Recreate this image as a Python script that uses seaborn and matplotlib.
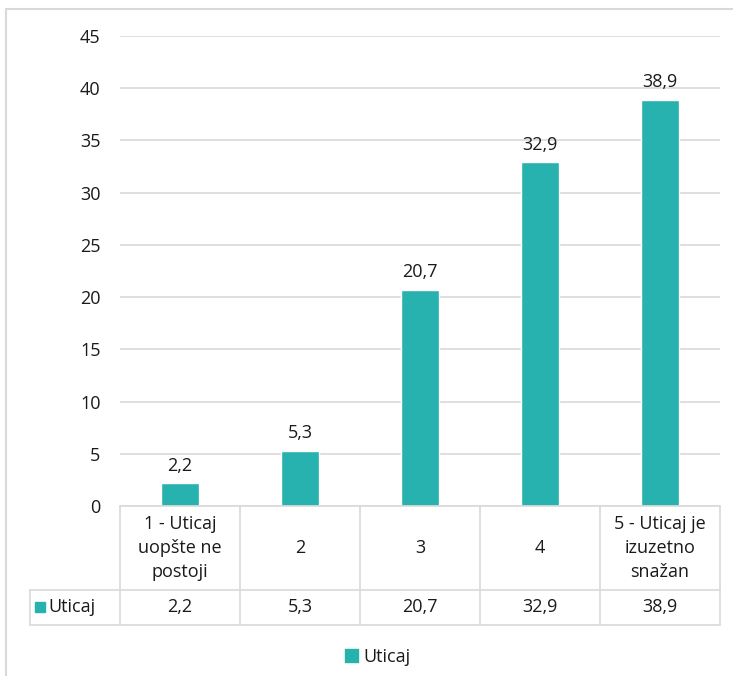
import matplotlib
matplotlib.use("Agg")
import matplotlib.pyplot as plt
import seaborn as sns
import pandas as pd
from matplotlib.patches import Rectangle
from matplotlib.lines import Line2D

categories = ["1 - Uticaj\nuopšte ne\npostoji", "2", "3", "4", "5 - Uticaj je\nizuzetno\nsnažan"]
values = [2.2, 5.3, 20.7, 32.9, 38.9]
series_name = "Uticaj"
y_ticks = [0, 5, 10, 15, 20, 25, 30, 35, 40, 45]

BAR_COLOR = "#27B1AF"
GRID_COLOR = "#D9D9D9"
TEXT_COLOR = "#1A1A1A"
FS = 13

sns.set_theme(style="white")
plt.rcParams["font.family"] = ["Open Sans", "DejaVu Sans"]

W, H = 733, 676
fig = plt.figure(figsize=(W / 100, H / 100), dpi=100)


def fx(px):
    return px / W


def fy(py):
    return 1 - py / H


ax = fig.add_axes([fx(120), fy(506), fx(720) - fx(120), fy(36) - fy(506)])

df = pd.DataFrame({"kat": categories, "val": values})
sns.barplot(data=df, x="kat", y="val", color=BAR_COLOR, width=0.32,
            saturation=1, ax=ax)

ax.set_ylim(0, 45)
ax.set_xlim(-0.5, len(categories) - 0.5)
ax.set_yticks(y_ticks)
ax.set_yticklabels([str(t) for t in y_ticks], fontsize=FS, color=TEXT_COLOR)
ax.tick_params(axis="y", length=0, pad=14)
ax.set_xticks([])
ax.set_xlabel("")
ax.set_ylabel("")
for s in ax.spines.values():
    s.set_visible(False)
ax.yaxis.grid(True, color=GRID_COLOR, linewidth=1.2)
ax.set_axisbelow(True)

ax.bar_label(ax.containers[0], labels=[f"{v:.1f}".replace(".", ",") for v in values],
             padding=6, fontsize=FS, color=TEXT_COLOR)

# data table below the axis
line_kw = dict(color=GRID_COLOR, linewidth=1.2, transform=fig.transFigure, clip_on=False)
fig.add_artist(Line2D([fx(120), fx(720)], [fy(506), fy(506)], **line_kw))
for xp in [120, 240, 360, 480, 600, 720]:
    fig.add_artist(Line2D([fx(xp), fx(xp)], [fy(506), fy(625)], **line_kw))
fig.add_artist(Line2D([fx(30), fx(30)], [fy(590), fy(625)], **line_kw))
for yp in [590, 625]:
    fig.add_artist(Line2D([fx(30), fx(720)], [fy(yp), fy(yp)], **line_kw))

for i, (cat, v) in enumerate(zip(categories, values)):
    xc = fx(180 + 120 * i)
    fig.text(xc, fy(548), cat, ha="center", va="center", fontsize=FS,
             color=TEXT_COLOR, linespacing=1.45)
    fig.text(xc, fy(607), f"{v:.1f}".replace(".", ","), ha="center", va="center",
             fontsize=FS, color=TEXT_COLOR)

fig.add_artist(Rectangle((fx(35), fy(612)), fx(10), fx(10) * W / H, color=BAR_COLOR,
                         transform=fig.transFigure))
fig.text(fx(48), fy(607), series_name, ha="left", va="center", fontsize=FS, color=TEXT_COLOR)

# legend
handles = [Rectangle((0, 0), 1, 1, color=BAR_COLOR)]
fig.legend(handles, [series_name], loc="center", bbox_to_anchor=(fx(378), fy(657)),
           frameon=False, fontsize=FS, handlelength=0.7, handleheight=0.7,
           handletextpad=0.3, labelcolor=TEXT_COLOR)

# chart border
fig.add_artist(Rectangle((fx(6), -0.05), 1.1, fy(9) + 0.05, fill=False,
                         edgecolor=GRID_COLOR, linewidth=1.5, transform=fig.transFigure))

fig.savefig("out.png", dpi=100, facecolor="white")
